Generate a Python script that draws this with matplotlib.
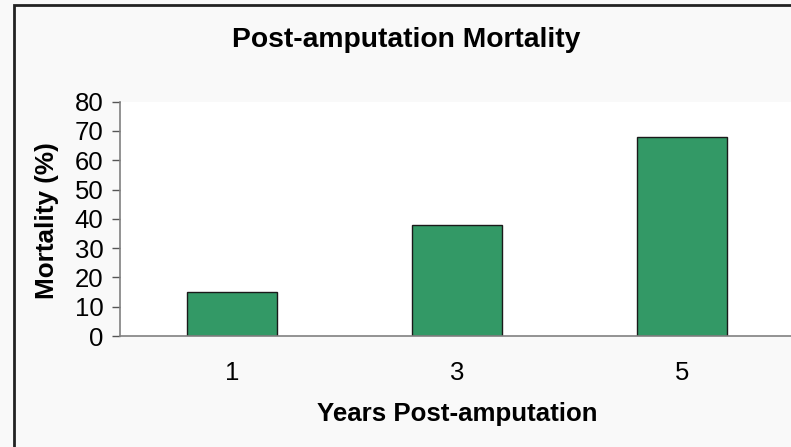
import matplotlib
matplotlib.use("Agg")
import matplotlib.pyplot as plt
from matplotlib.patches import Rectangle

categories = ["1", "3", "5"]
mortality = [15, 38, 68]
yticks = [0, 10, 20, 30, 40, 50, 60, 70, 80]

plt.rcParams['font.family'] = ['Liberation Sans', 'DejaVu Sans']

fig = plt.figure(figsize=(7.91, 4.47), dpi=100)
fig.patch.set_facecolor('#f9f9f9')

# figure border (left and top visible)
border = Rectangle((14 / 791, -0.05), 1.1, (447 - 5) / 447 + 0.05,
                   transform=fig.transFigure, fill=False,
                   edgecolor='#222222', linewidth=2, zorder=0)
fig.patches.append(border)

ax = fig.add_axes([120 / 791, (447 - 336) / 447, 674 / 791, (336 - 101.7) / 447])
ax.set_facecolor('white')

x = list(range(len(categories)))
ax.bar(x, mortality, width=0.4, color='#339966', edgecolor='#1a1a1a', linewidth=1.0)

ax.set_xlim(-0.5, len(categories) - 0.5)
ax.set_ylim(0, 80)
ax.set_yticks(yticks)
ax.set_xticks(x)
ax.set_xticklabels(categories)

for s in ['top', 'right']:
    ax.spines[s].set_visible(False)
for s in ['left', 'bottom']:
    ax.spines[s].set_color('#808080')
    ax.spines[s].set_linewidth(1.2)

ax.tick_params(axis='y', direction='out', length=6, color='#555555', width=1,
               labelsize=18.5, pad=6)
ax.tick_params(axis='x', length=0, labelsize=18.5, pad=18)

ax.set_xlabel('Years Post-amputation', fontsize=18.6, fontweight='bold', labelpad=12)
ax.set_ylabel('Mortality (%)', fontsize=18.8, fontweight='bold', va='center')
ax.yaxis.set_label_coords(-(120 - 47.5) / 674, (336 - 221) / (336 - 101.7))

fig.text(406 / 791, 1 - 40 / 447, 'Post-amputation Mortality', ha='center', va='center',
         fontsize=20.3, fontweight='bold')

fig.savefig('out.png', dpi=100, facecolor=fig.get_facecolor())
